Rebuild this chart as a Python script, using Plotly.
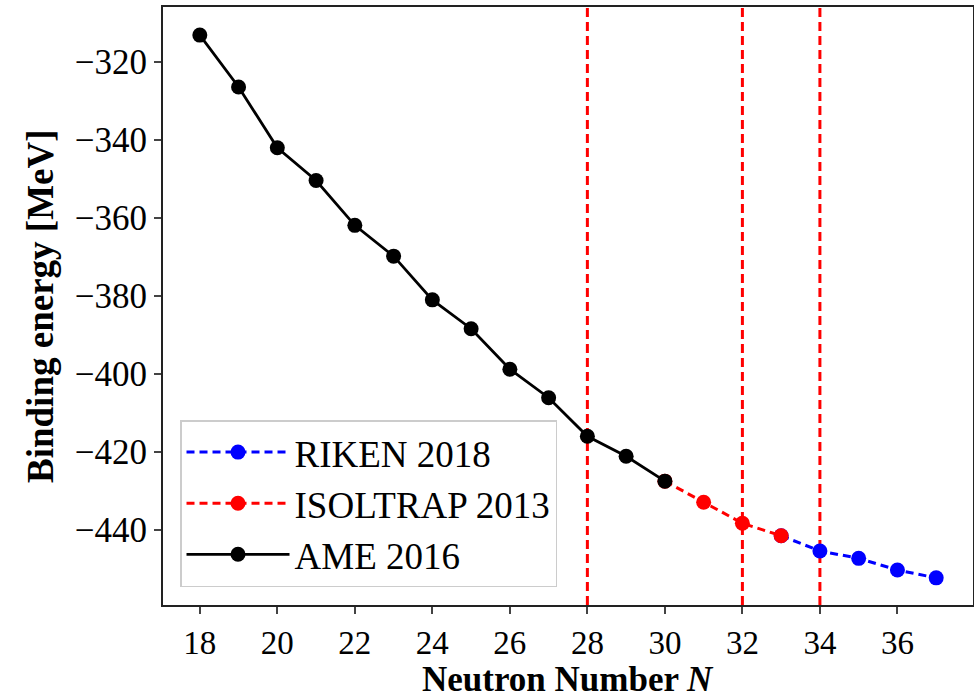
import plotly.graph_objects as go

# AME 2016
N_ame = [18, 19, 20, 21, 22, 23, 24, 25, 26, 27, 28, 29, 30]
BE_ame = [-313.1, -326.4, -342.0, -350.4, -361.9, -369.8, -381.0, -388.4, -398.8, -406.1, -416.0, -421.1, -427.5]
# ISOLTRAP 2013
N_iso = [30, 31, 32, 33]
BE_iso = [-427.5, -432.9, -438.3, -441.5]
# RIKEN 2018
N_rik = [33, 34, 35, 36, 37]
BE_rik = [-441.5, -445.4, -447.3, -450.3, -452.3]

vlines = [28, 32, 34]
xticks = [18, 20, 22, 24, 26, 28, 30, 32, 34, 36]
yticks = [-320, -340, -360, -380, -400, -420, -440]

FONT = "Liberation Serif"

fig = go.Figure()
fig.add_trace(go.Scatter(x=N_rik, y=BE_rik, mode="lines+markers", name="RIKEN 2018", legendgroup="a",
                         line=dict(color="blue", width=3, dash="8px,5px"),
                         marker=dict(color="blue", size=15)))
fig.add_trace(go.Scatter(x=N_iso, y=BE_iso, mode="lines+markers", name="ISOLTRAP 2013", legendgroup="b",
                         line=dict(color="red", width=3, dash="8px,5px"),
                         marker=dict(color="red", size=15)))
fig.add_trace(go.Scatter(x=N_ame, y=BE_ame, mode="lines+markers", name="AME 2016", legendgroup="c",
                         line=dict(color="black", width=2.8),
                         marker=dict(color="black", size=15)))

for v in vlines:
    fig.add_vline(x=v, line=dict(color="red", width=3, dash="9px,5px"), layer="below")

fig.update_layout(
    width=974, height=700,
    margin=dict(l=163, r=1, t=7, b=95),
    plot_bgcolor="white", paper_bgcolor="white",
    font=dict(family=FONT, size=35, color="black"),
    showlegend=True,
    legend=dict(x=0.021, y=0.030, xanchor="left", yanchor="bottom",
                bordercolor="#cccccc", borderwidth=1.5, bgcolor="white",
                font=dict(family=FONT, size=37), itemwidth=103, tracegroupgap=7,
                traceorder="normal"),
    annotations=[
        dict(text="<b>Neutron Number <i>N</i></b>", xref="paper", yref="paper", x=0.5, y=0,
             yshift=-95, xanchor="center", yanchor="bottom", showarrow=False,
             font=dict(family=FONT, size=35), borderpad=0),
        dict(text="<b>Binding energy [MeV]</b>", xref="paper", yref="paper", x=0, y=0.5,
             xshift=-123, xanchor="center", yanchor="middle", showarrow=False, textangle=-90,
             font=dict(family=FONT, size=37)),
    ],
)
fig.update_xaxes(range=[17.05, 37.95], tickvals=xticks, ticks="outside", ticklen=7, tickwidth=1.5,
                 showline=True, linecolor="#222222", linewidth=1.8, mirror=True, showgrid=False, zeroline=False,
                 automargin=False, tickfont=dict(family=FONT, size=33))
fig.update_yaxes(range=[-459.26, -305.9], tickvals=yticks, ticks="outside", ticklen=7, tickwidth=1.5,
                 showline=True, linecolor="#222222", linewidth=1.8, mirror=True, showgrid=False, zeroline=False,
                 automargin=False, tickfont=dict(family=FONT, size=35))

fig.write_html("out.html", config={"displayModeBar": False},
               post_script="document.body.style.margin='0';document.body.style.overflow='hidden';")
